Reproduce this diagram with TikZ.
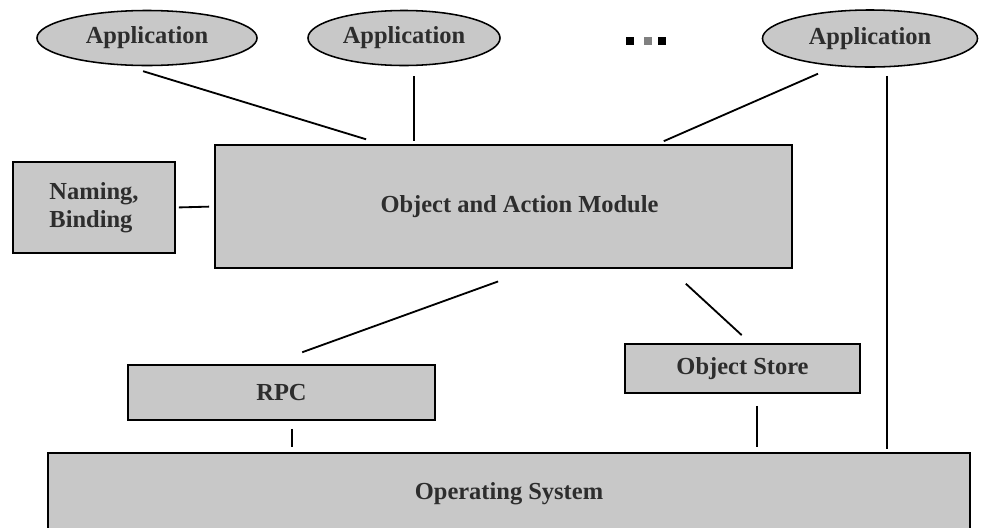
\documentclass[tikz,border=0pt]{standalone}
\usepackage{fontspec}
\setmainfont{Liberation Serif}
\usetikzlibrary{shapes.geometric}
\definecolor{boxgray}{RGB}{200,200,200}
\definecolor{textgray}{RGB}{45,45,45}
\tikzset{every picture/.style={/utils/exec={\bfseries}}}
\tikzset{
  app/.style={ellipse, draw, fill=boxgray, line width=1.1pt, inner sep=0pt,
    text=textgray, font=\fontsize{17.4}{20}\selectfont\bfseries},
  box/.style={rectangle, draw, fill=boxgray, line width=1.1pt, inner sep=0pt,
    text=textgray, font=\fontsize{17.4}{20}\selectfont\bfseries},
  link/.style={line width=1.3pt}
}

\begin{document}
\begin{tikzpicture}[x=0.025cm, y=-0.025cm]
  \useasboundingbox (0,0) rectangle (988,527);

  % applications
  \node [app, minimum width=5.5cm, minimum height=1.375cm] at (147,38) (app1) {Application};
  \node [app, minimum width=4.8cm, minimum height=1.375cm] at (404,38) (app2) {Application};
  \node [app, minimum width=5.375cm, minimum height=1.425cm] at (870,38.5) (app3) {Application};

  \foreach \x/\c in {630/black, 648/gray, 662/black} {
    \node [rectangle, fill=\c, minimum size=0.2cm, inner sep=0pt] at (\x,41) (dot\x) {};
  }

  % middle layer
  \node [box, minimum width=14.425cm, minimum height=3.075cm] at (503.5,206.5) (oam) {\hspace*{0.8cm}Object and Action Module};
  \node [box, minimum width=4.05cm, minimum height=2.275cm, align=left] at (94,207.5) (naming) {Naming,\\Binding};

  % lower layer
  \node [box, minimum width=7.675cm, minimum height=1.375cm] at (281.5,392.5) (rpc) {RPC};
  \node [box, minimum width=5.875cm, minimum height=1.225cm] at (742.5,368.5) (store) {Object Store};
  \node [box, minimum width=23.05cm, minimum height=2.05cm] at (509,494) (os) {Operating System};

  \draw [link, shorten <=0.42cm, shorten >=0.42cm] ([xshift=-0.5cm]app1.south) -- ([xshift=4.2cm]oam.north west);
  \draw [link, shorten <=0.25cm, shorten >=0.075cm] ([xshift=0.25cm]app2.south) -- ([xshift=0.25cm]app2.south |- oam.north);
  \draw [link, shorten <=0.37cm, shorten >=0.19cm] ([xshift=-0.96cm]app3.south) -- ([xshift=-3.4cm]oam.north east);
  \draw [link, shorten <=0.2cm, shorten >=0.075cm] ([xshift=0.425cm]app3.south) -- ([xshift=0.425cm]app3.south |- os.north);

  \draw [link, shorten <=0.075cm, shorten >=0.125cm] (naming.east) -- (oam.west);

  \draw [link, shorten <=0.93cm, shorten >=0.88cm] ([xshift=0.74cm]oam.south) -- ([xshift=-0.31cm]rpc.north);
  \draw [link, shorten <=0.55cm, shorten >=0.3cm] ([xshift=-3.08cm]oam.south east) -- ([xshift=0.2cm]store.north);

  \draw [link, shorten <=0.2cm, shorten >=0.125cm] ([xshift=0.26cm]rpc.south) -- ([xshift=0.26cm]rpc.south |- os.north);
  \draw [link, shorten <=0.3cm, shorten >=0.125cm] ([xshift=0.36cm]store.south) -- ([xshift=0.36cm]store.south |- os.north);
\end{tikzpicture}
\end{document}
